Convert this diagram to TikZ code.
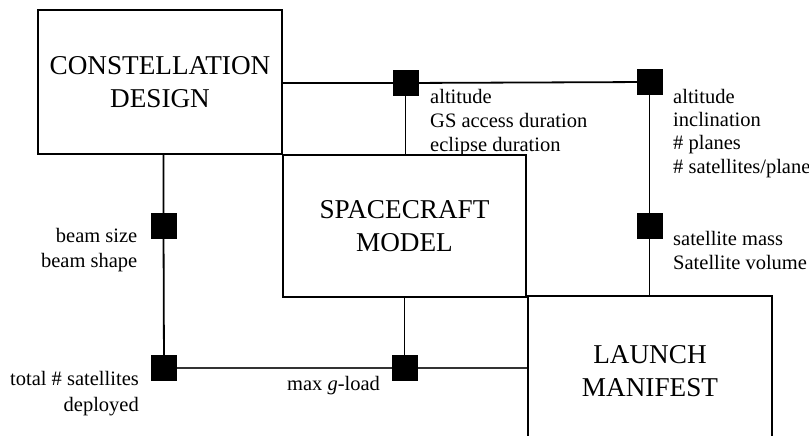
\documentclass[tikz,border=0pt]{standalone}
\usepackage{fontspec}
\setmainfont{Liberation Serif}
\begin{document}
\begin{tikzpicture}[x=1pt,y=-1pt,
  blockbox/.style={draw,line width=1.8pt,fill=white,inner sep=0pt,align=center,
    font=\fontsize{27.2}{32.5}\selectfont},
  sq/.style={fill=black,draw=none,minimum width=26pt,minimum height=26pt,inner sep=0pt},
  link/.style={line width=1.8pt},
  lbl/.style={inner sep=0pt,font=\fontsize{20.5}{24}\selectfont}]
\useasboundingbox (0,0) rectangle (809,436);
\clip (0,0) rectangle (809,436);
% blocks
\node[blockbox,minimum width=244pt,minimum height=144pt] (CD) at (160,82) {CONSTELLATION\\DESIGN};
\node[blockbox,minimum width=243pt,minimum height=142pt] (SM) at (404.5,226) {SPACECRAFT\\MODEL};
\node[blockbox,minimum width=244pt,minimum height=150pt] (LM) at (650,371) {LAUNCH\\MANIFEST};
% interface squares (positions)
\coordinate (c1) at (405.5,83);
\coordinate (c2) at (649.5,82);
\coordinate (c3) at (649.5,226);
\coordinate (c4) at (163.5,226);
\coordinate (c5) at (164,368);
\coordinate (c6) at (404.5,368);
% connectors
\draw[link] (CD.east |- c1) -- (c1) -- (c2);
\draw[link] (c1) -- (c1 |- SM.north);
\draw[link] (c2) -- (c3) -- (c3 |- LM.north);
\draw[link] (CD.south -| c4) -- (c4) -- (c5);
\draw[line width=1.4pt,black!80] (c5) -- (c5 -| LM.west);
\draw[link] (c6) -- (c6 |- SM.south);
% squares
\node[sq] (s1) at (c1) {};
\node[sq] (s2) at (c2) {};
\node[sq] (s3) at (c3) {};
\node[sq] (s4) at (c4) {};
\node[sq] (s5) at (c5) {};
\node[sq] (s6) at (c6) {};
% labels
\node[lbl,anchor=base west] (l1) at (430,103) {\begin{tabular}[t]{@{}l@{}}altitude\\GS access duration\\eclipse duration\end{tabular}};
\node[lbl,anchor=base west,font=\fontsize{20.5}{23.5}\selectfont] (l2) at (673,103) {\begin{tabular}[t]{@{}l@{}}altitude\\inclination\\\# planes\\\# satellites/plane\end{tabular}};
\node[lbl,anchor=base west] (l3) at (673,245) {\begin{tabular}[t]{@{}l@{}}satellite mass\\Satellite volume\end{tabular}};
\node[lbl,anchor=base east,font=\fontsize{20.5}{25}\selectfont] (l4) at (137.5,242) {\begin{tabular}[t]{@{}r@{}}beam size\\beam shape\end{tabular}};
\node[lbl,anchor=base east,font=\fontsize{20.5}{26}\selectfont] (l5) at (139,385) {\begin{tabular}[t]{@{}r@{}}total \# satellites\\deployed\end{tabular}};
\node[lbl,anchor=base] (l6) at (333.5,390) {max \textit{g}-load};
\end{tikzpicture}
\end{document}
